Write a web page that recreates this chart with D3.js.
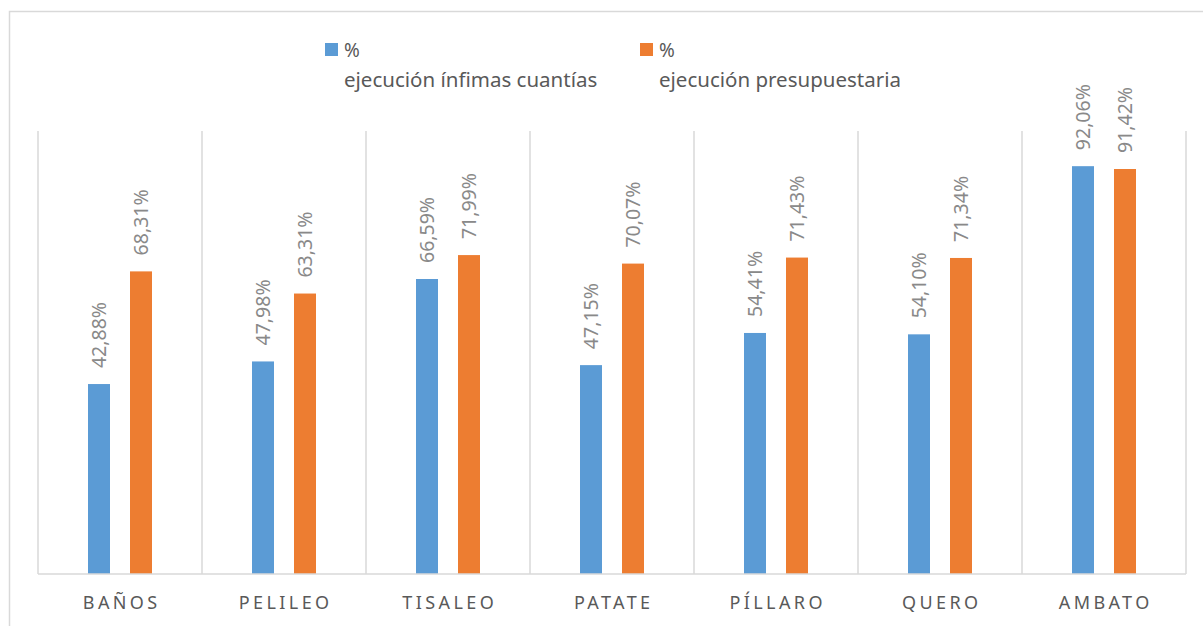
<!DOCTYPE html>
<html>
<head>
<meta charset="utf-8">
<script src="https://cdn.jsdelivr.net/npm/d3@7"></script>
<style>
  body { margin: 0; background: #fff; }
  text { font-family: "Noto Sans", "Open Sans", sans-serif; }
</style>
</head>
<body>
<script>
"use strict";
(function(){
    // chart data
    const categories = ["BAÑOS", "PELILEO", "TISALEO", "PATATE", "PÍLLARO", "QUERO", "AMBATO"]
    const seriesNames = ["% ejecución ínfimas cuantías", "% ejecución presupuestaria"]
    const infimas = [42.88, 47.98, 66.59, 47.15, 54.41, 54.10, 92.06]
    const presupuestaria = [68.31, 63.31, 71.99, 70.07, 71.43, 71.34, 91.42]
    const colors = ["#5B9BD5", "#ED7D31"]

    const measurements = {
        width: 1203,
        height: 626,
        left: 38,
        right: 1186,
        top: 131,
        bottom: 574
    }

    let svg = d3.select('body').append("svg")
        .attr('width', measurements.width)
        .attr('height', measurements.height)

    // outer chart border
    svg.append("rect")
        .attr("x", 9.5).attr("y", 11.5)
        .attr("width", 1250).attr("height", 700)
        .attr("fill", "none")
        .attr("stroke", "#D9D9D9")
        .attr("stroke-width", 1.5)

    let rows = categories.map((c, i) => ({ cat: c, values: [infimas[i], presupuestaria[i]] }))

    let x0 = d3.scaleBand()
        .domain(categories)
        .range([measurements.left, measurements.right])
        .padding(0)

    const step = 42, barW = 22
    let x1 = d3.scaleBand()
        .domain([0, 1])
        .range([0, x0.bandwidth()])
        .paddingInner((step - barW) / step)
        .paddingOuter((x0.bandwidth() / step - 2 + (step - barW) / step) / 2)

    let y = d3.scaleLinear()
        .domain([0, 100])
        .range([measurements.bottom, measurements.top])

    // vertical gridlines at category boundaries
    let bounds = categories.map(c => x0(c)).concat([measurements.right])
    svg.append("g").selectAll("line")
        .data(bounds)
        .enter().append("line")
        .attr("x1", d => d).attr("x2", d => d)
        .attr("y1", measurements.top).attr("y2", measurements.bottom)
        .attr("stroke", "#D9D9D9")
        .attr("stroke-width", 1.5)

    // bars
    let groups = svg.append("g").selectAll("g")
        .data(rows)
        .enter().append("g")
        .attr("transform", d => "translate(" + x0(d.cat) + ",0)")

    groups.selectAll("rect")
        .data(d => d.values.map((v, i) => ({ v: v, i: i })))
        .enter().append("rect")
        .attr("x", d => x1(d.i))
        .attr("width", x1.bandwidth())
        .attr("y", d => y(d.v))
        .attr("height", d => y(0) - y(d.v))
        .attr("fill", d => colors[d.i])

    // data labels, rotated
    groups.selectAll("text")
        .data(d => d.values.map((v, i) => ({ v: v, i: i })))
        .enter().append("text")
        .attr("transform", d => "translate(" + (x1(d.i) + x1.bandwidth() / 2 + 7) + "," + (y(d.v) - 16) + ") rotate(-90)")
        .attr("font-size", 19.5)
        .attr("fill", "#898989")
        .text(d => d.v.toFixed(2).replace(".", ",") + "%")

    // baseline axis
    svg.append("line")
        .attr("x1", measurements.left).attr("x2", measurements.right)
        .attr("y1", measurements.bottom).attr("y2", measurements.bottom)
        .attr("stroke", "#D9D9D9")
        .attr("stroke-width", 1.5)

    // category labels
    const ls = 3.4
    svg.append("g").selectAll("text")
        .data(categories)
        .enter().append("text")
        .attr("x", d => x0(d) + x0.bandwidth() / 2 + ls / 2)
        .attr("y", 609)
        .attr("text-anchor", "middle")
        .attr("font-size", 18)
        .attr("letter-spacing", ls)
        .attr("fill", "#595959")
        .text(d => d)

    // legend
    const legendX = [325, 640]
    let legend = svg.append("g").selectAll("g")
        .data(seriesNames)
        .enter().append("g")
        .attr("transform", (d, i) => "translate(" + legendX[i] + ",0)")

    legend.append("rect")
        .attr("x", 0).attr("y", 43)
        .attr("width", 13).attr("height", 13)
        .attr("fill", (d, i) => colors[i])

    legend.append("text")
        .attr("x", 19).attr("y", 57)
        .attr("font-size", 19)
        .attr("fill", "#595959")
        .text("%")

    legend.append("text")
        .attr("x", 19).attr("y", 87)
        .attr("font-size", 20.5)
        .attr("fill", "#595959")
        .text(d => d.replace("% ", ""))
})()
</script>
</body>
</html>
